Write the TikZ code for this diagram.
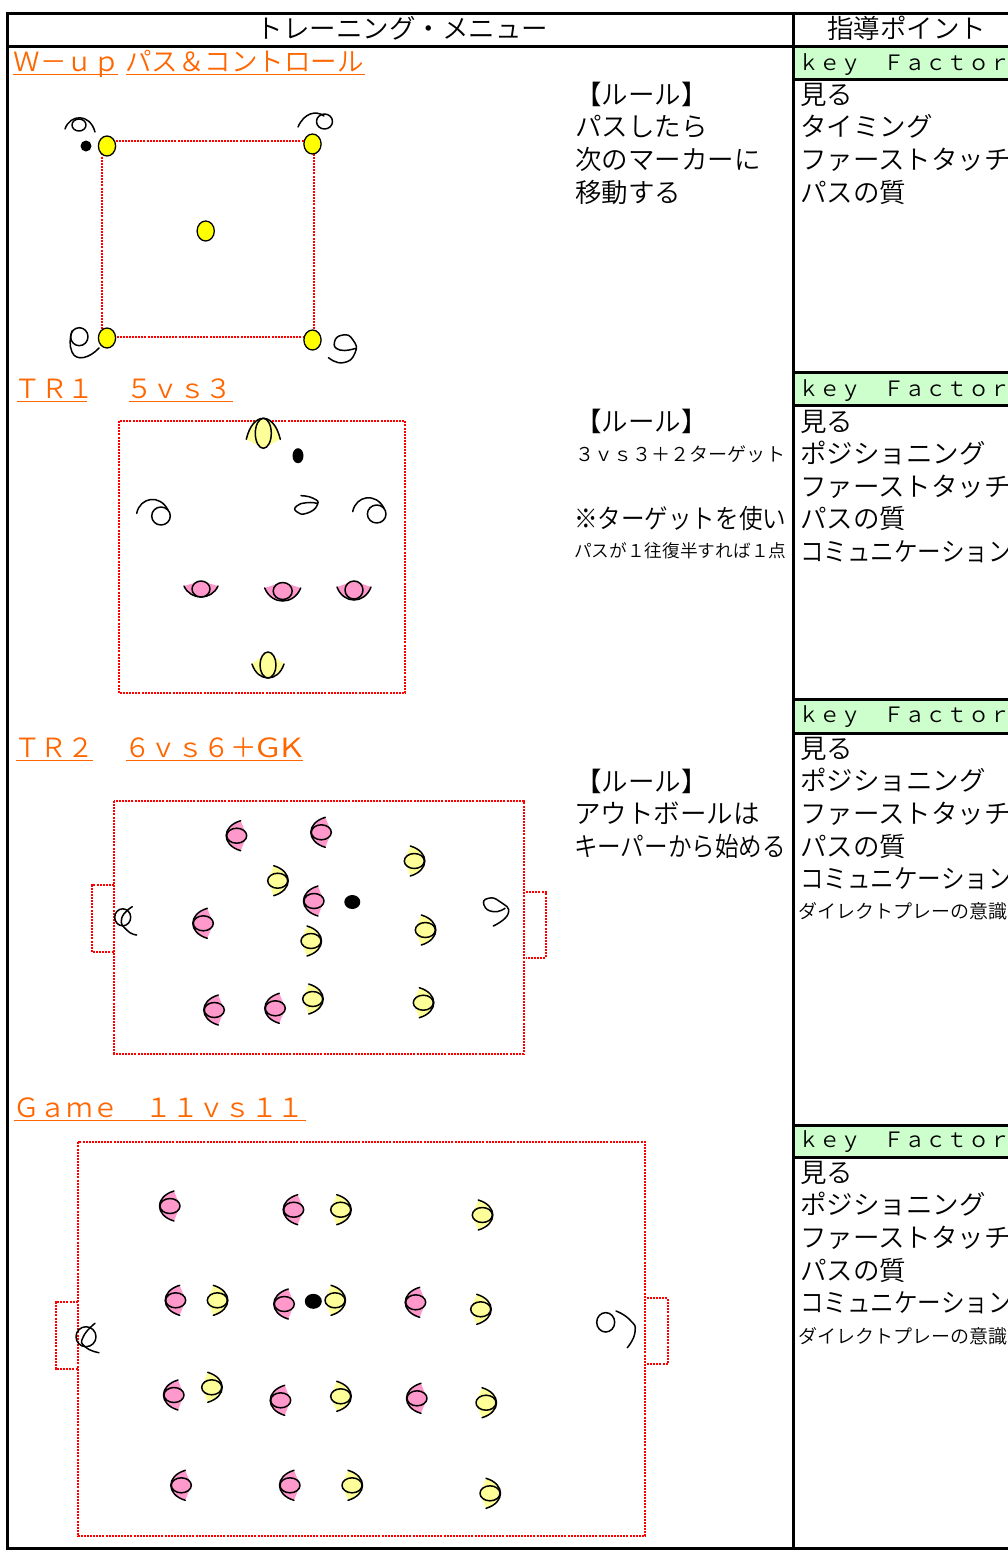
\documentclass[tikz,border=0pt]{standalone}
\usepackage{graphicx}
\usepackage{fontspec}
\setmainfont{Noto Sans CJK JP}[UprightFont=* DemiLight]
\newcommand\apx{10}
\newcommand\plr[9]{%
  \begin{scope}[shift={(#1,#2)},rotate=#4]
    \fill[#3] (#7,-#9) .. controls ({(8*#8-2*#7)/6},{-#9*0.62}) and ({(8*#8-2*#7)/6},{#9*0.62}) .. (#7,#9) -- (-\apx,0) -- cycle;
    \draw[pstroke] (#7,-#9) .. controls ({(8*#8-2*#7)/6},{-#9*0.62}) and ({(8*#8-2*#7)/6},{#9*0.62}) .. (#7,#9);
  \end{scope}
  \draw[pstroke,fill=#3] (#1,#2) ellipse [x radius=#5,y radius=#6];}
\newcommand\pk[2]{\renewcommand\apx{10}\plr{#1}{#2}{kpink}{180}{10}{7.5}{-4}{10.5}{15}}
\newcommand\yl[2]{\renewcommand\apx{10}\plr{#1}{#2}{kyel}{0}{10}{7.5}{-4}{10.5}{15}}
\newcommand\markr[2]{\draw[conem] (#1,#2) ellipse [x radius=8.6,y radius=10];}
\newcommand\tline[4]{\node[lab,font=\fontsize{#3}{#3}\selectfont] at (#1,#2) {#4};}
\newcommand\tsq[4]{\node[lab,font=\fontsize{26.5}{26.5}\selectfont] at (#1,#2) {\scalebox{#3}[1]{#4}};}
\newcommand\headg[6]{\node[lab,text=korg,font=\fontsize{26.5}{26.5}\selectfont] (#1) at (#2,#3) {#4};
  \coordinate (#1l) at (#5,{#3+3.5}); \coordinate (#1r) at (#6,{#3+3.5});
  \draw[korg,line width=1.8] (#1l) -- (#1r);}
\newcommand\kband[3]{\fill[kgreen] (795,#1) rectangle (1008,#2);
  \draw[rule] (793.5,#1) -- (1008,#1) (793.5,#2) -- (1008,#2);
  \node[lab,font=\fontsize{21.2}{21.2}\selectfont] at (798.5,#3) {ｋｅｙ　Ｆａｃｔｏｒ};}
\definecolor{korg}{HTML}{FF6600}
\definecolor{kgreen}{HTML}{CCFFCC}
\definecolor{kpink}{HTML}{FF99CC}
\definecolor{kyel}{HTML}{FFFF99}
\definecolor{kmark}{HTML}{FFFF00}
\definecolor{kred}{HTML}{FF0000}
\tikzset{
  x=1pt,y=-1pt,
  lab/.style={anchor=base west,inner sep=0pt,outer sep=0pt},
  rule/.style={line width=3,black},
  reddot/.style={draw=kred,line width=2,dash pattern=on 2pt off 1.1pt},
  pstroke/.style={draw=black,line width=1.5,line cap=round,line join=round},
  conem/.style={draw=black,line width=1.3,fill=kmark},
  ballm/.style={fill=black},
}
\begin{document}
\begin{tikzpicture}
\useasboundingbox (0,0) rectangle (1008,1551);
\fill[white] (0,0) rectangle (1008,1551);
\begin{scope}
\clip (0,0) rectangle (1008,1551);
% table
\kband{46}{79}{70}\kband{372.5}{405}{396.7}\kband{699.7}{733}{722.3}\kband{1125.3}{1157}{1147.3}
\draw[rule] (1008,13.7) -- (7.5,13.7) -- (7.5,1548) -- (1008,1548);
\draw[rule] (7.5,46) -- (1008,46);
\draw[rule] (793.5,13.7) -- (793.5,1548);
\tline{256.5}{38}{26.5}{トレーニング・メニュー}
\tline{827}{38}{26.5}{指導ポイント}
% headings
\headg{h1}{13.5}{71}{Ｗ－ｕｐ}{13}{118}
\headg{h2}{125}{71}{パス＆コントロール}{126}{365}
\headg{h3}{15}{398}{ＴＲ１}{17}{87}
\headg{h4}{126}{398}{５ｖｓ３}{129}{233}
\headg{h5}{14}{757}{ＴＲ２}{16}{93}
\headg{h6}{124}{757}{６ｖｓ６＋\scalebox{1.3}[1]{GK}}{126}{303}
\headg{h7}{13}{1117}{Ｇａｍｅ　１１ｖｓ１１}{14}{306}
% rules text
\tline{575}{104}{26.5}{【ルール】}
\tline{575}{136}{26.5}{パスしたら}
\tline{575}{169}{26.5}{次のマーカーに}
\tline{575}{202}{26.5}{移動する}
\tline{575}{431}{26.5}{【ルール】}
\tline{575}{461}{19.1}{３ｖｓ３＋２ターゲット}
\tsq{574}{528}{0.89}{※ターゲットを使い}
\tline{574}{557}{17.7}{パスが１往復半すれば１点}
\tline{575}{791}{26.5}{【ルール】}
\tline{574}{823}{26.5}{アウトボールは}
\tsq{574}{856}{0.89}{キーパーから始める}
% key factors
\tline{800}{104}{26.5}{見る}
\tline{800}{136}{26.5}{タイミング}
\tline{800}{169}{26.5}{ファーストタッチ}
\tline{800}{202}{26.5}{パスの質}
\tline{800}{431}{26.5}{見る}
\tline{800}{463}{26.5}{ポジショニング}
\tline{800}{496}{26.5}{ファーストタッチ}
\tline{800}{528}{26.5}{パスの質}
\tsq{800}{561}{0.89}{コミュニケーション}
\tline{800}{758}{26.5}{見る}
\tline{800}{790}{26.5}{ポジショニング}
\tline{800}{823}{26.5}{ファーストタッチ}
\tline{800}{856}{26.5}{パスの質}
\tsq{800}{888}{0.89}{コミュニケーション}
\tline{798}{918}{19}{ダイレクトプレーの意識}
\tline{800}{1182}{26.5}{見る}
\tline{800}{1214}{26.5}{ポジショニング}
\tline{800}{1247}{26.5}{ファーストタッチ}
\tline{800}{1280}{26.5}{パスの質}
\tsq{800}{1312}{0.89}{コミュニケーション}
\tline{798}{1343}{19}{ダイレクトプレーの意識}
% W-up
\draw[reddot] (101.7,141) rectangle (313.5,337);
\markr{107}{146}\markr{312.5}{144}\markr{205.7}{231}\markr{107}{338}\markr{312.5}{340}
\fill[ballm] (86,146) circle (5.5);
\draw[pstroke] (65,129) .. controls (70,114) and (90,113) .. (95,132);
\draw[pstroke] (79,125) ellipse [x radius=7,y radius=6];
\draw[pstroke] (298,127) .. controls (304,113) and (316,110) .. (324,116);
\draw[pstroke] (324.5,121.5) ellipse [x radius=8,y radius=7.5];
\draw[pstroke] (99,348) .. controls (90,358) and (76,362) .. (72,352) .. controls (69,345) and (70,338) .. (72,331);
\draw[pstroke] (79.3,336.7) ellipse [x radius=8.7,y radius=9];
\draw[pstroke] plot[smooth,tension=1] coordinates {(328.5,357.7) (343,362.7) (355,353) (353,340) (343,335) (334.5,342) (340,350) (355,348.5)};
% TR1
\draw[reddot] (119,421) rectangle (405,693);
\renewcommand\apx{15}\plr{263.3}{433.3}{kyel}{90}{8}{15}{-6}{15}{17}
\fill[ballm] (298,455.7) ellipse [x radius=5.5,y radius=7.5];
\draw[pstroke] (136.7,513.3) .. controls (140,497) and (160,494) .. (168,510);
\draw[pstroke] (161,516) ellipse [x radius=9.3,y radius=9];
\draw[pstroke] (352.7,511.6) .. controls (356,495.3) and (376,492.3) .. (384,508.3);
\draw[pstroke] (376.7,514) ellipse [x radius=9.3,y radius=9];
\draw[pstroke] plot[smooth,tension=1] coordinates {(301,495.7) (313.3,498.3) (317.3,505) (306.7,513.3) (296.7,511.7) (296.7,506) (306.7,502.7) (316.7,503.3)};
\renewcommand\apx{8}\plr{201}{589}{kpink}{-90}{9}{8}{-3}{8}{17}
\renewcommand\apx{9}\plr{282.7}{591}{kpink}{-90}{9.5}{8.5}{-3}{10}{18}
\renewcommand\apx{9}\plr{354}{590}{kpink}{-90}{9}{9}{-3}{10}{17}
\renewcommand\apx{13}\plr{268}{665}{kyel}{-90}{8}{13}{-1}{13}{16}
% TR2
\draw[reddot] (114.3,801) rectangle (523.7,1053.7);
\draw[reddot] (114,885) -- (92,885) -- (92,952) -- (114,952);
\draw[reddot] (526,891.7) -- (546,891.7) -- (546,957.7) -- (526,957.7);
\pk{236.7}{835.7}\pk{321.3}{832.3}\pk{314}{901}\pk{203.3}{923.3}\pk{214.3}{1010}\pk{275.3}{1008.3}
\yl{277.7}{880.7}\yl{414.3}{861}\yl{311}{941}\yl{425.3}{930}\yl{312.7}{999}\yl{423.3}{1002.7}
\fill[ballm] (352.3,902) ellipse [x radius=8,y radius=7];
\draw[pstroke] plot[smooth,tension=1] coordinates {(136.7,935) (126.7,930) (121.7,918.3) (132.3,906.7)};
\draw[pstroke] (122.7,917.3) ellipse [x radius=8,y radius=8.5];
\draw[pstroke] plot[smooth,tension=1] coordinates {(493.3,926) (508.3,913.3) (500,901.7) (488.3,898.3) (484,905) (493.3,911.7) (505,908.3)};
% Game
\draw[reddot] (77.7,1142.3) rectangle (645.3,1536);
\draw[reddot] (77.7,1302.3) -- (55.7,1302.3) -- (55.7,1369) -- (77.7,1369);
\draw[reddot] (646.7,1298.3) -- (667.7,1298.3) -- (667.7,1364) -- (646.7,1364);
\pk{170}{1206}\pk{293.7}{1209.7}\pk{175.7}{1300.3}\pk{284.3}{1304}\pk{174}{1395}\pk{280.7}{1400.3}\pk{181.3}{1485.3}\pk{290}{1485.3}\pk{415.7}{1302.3}\pk{417}{1398.3}
\yl{340.7}{1209.7}\yl{217.3}{1300.3}\yl{335}{1300.3}\yl{211.7}{1387.3}\yl{340.7}{1396.3}\yl{352}{1485.3}\yl{482.3}{1215}\yl{480.7}{1309.3}\yl{486}{1402.7}\yl{490}{1493.3}
\fill[ballm] (313.3,1301.3) ellipse [x radius=8.5,y radius=7.5];
\draw[pstroke] (86,1336.7) ellipse [x radius=10,y radius=10];
\draw[pstroke] plot[smooth,tension=1] coordinates {(95,1323.3) (83.3,1336.7) (85,1346.7) (99,1352.7)};
\draw[pstroke] (605.7,1322.3) ellipse [x radius=9,y radius=9.7];
\draw[pstroke] plot[smooth,tension=1] coordinates {(616,1311) (630,1320) (635,1332) (627.3,1347.7)};
\end{scope}
\end{tikzpicture}
\end{document}
